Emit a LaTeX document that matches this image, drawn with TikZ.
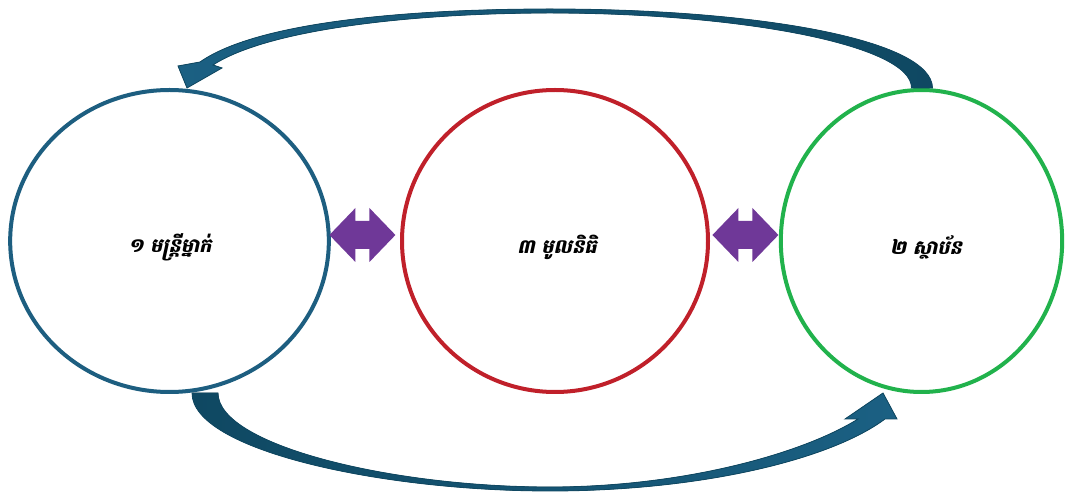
\documentclass[tikz,border=0pt]{standalone}
\usepackage{fontspec}
\usepackage{tikz}
\usetikzlibrary{shapes.geometric,calc}
\newfontfamily\khmerfont[Script=Khmer,FakeSlant=0.22,BoldFeatures={FakeSlant=0.22}]{Battambang}
\definecolor{ringblue}{HTML}{1D5E80}
\definecolor{ringred}{HTML}{C0202A}
\definecolor{ringgreen}{HTML}{21B24C}
\definecolor{flowdark}{HTML}{0F4862}
\definecolor{flowlight}{HTML}{1B6083}
\definecolor{linkpurple}{HTML}{6F3898}
\tikzset{
  ring/.style={shape=ellipse,draw,line width=3pt,inner sep=0pt,minimum height=226.5pt},
  lbl/.style={font=\khmerfont\bfseries\fontsize{14.5}{16}\selectfont},
  linkarrow/.style={fill=linkpurple},
  flow/.style={draw=flowdark,line width=0.6pt}
}
\begin{document}
\begin{tikzpicture}[x=0.75pt,y=-0.75pt]
\fill[white](0,0)rectangle(1065,495);
\useasboundingbox(0,0)rectangle(1065,495);
% three rings
\node[ring,draw=ringblue,minimum width=239pt](lft)at(169.5,241){};
\node[ring,draw=ringred,minimum width=229.5pt](mid)at(555,241){};
\node[ring,draw=ringgreen,minimum width=211pt](rgt)at(921.5,241){};
\node[lbl](lfttxt)at(170,247){១ មន្ត្រីម្នាក់};
\node[lbl](midtxt)at(557,247){៣ មូលនិធិ};
\node[lbl](rgttxt)at(926,247){២ ស្ថាប័ន};
% double arrows between rings
\coordinate(linkA)at($(lft.east)!0.5!(mid.west)+(-3,-6)$);
\coordinate(linkB)at($(mid.east)!0.5!(rgt.west)+(1,-6)$);
\foreach \c in {linkA,linkB}
  \fill[linkarrow](\c)++(-33,0)--++(26,-27)--++(0,13)--++(14,0)--++(0,-13)--++(26,27)
    --++(-26,27)--++(0,-13)--++(-14,0)--++(0,13)--cycle;
% curved arrow on top
\filldraw[flow,left color=flowlight,right color=flowdark]
  ($(rgt.north)+(-10,0)$)..controls(912,45)and(740,13)..(550,13)
  ..controls(420,13)and(270,28)..(213,65)--(222,68)--(187,88)--(178,66)--(200,62)
  ..controls(260,20)and(420,9)..(550,9)..controls(760,9)and(932,40)..($(rgt.north)+(11,0)$)--cycle;
% curved arrow at the bottom
\filldraw[flow,left color=flowdark,right color=flowlight]
  (192,393)..controls(192,450)and(380,491)..(550,491)..controls(700,491)and(830,460)..(885,419)
  --(897,419)--(883,393)--(845,419)--(858,419)
  ..controls(800,455)and(680,487)..(550,487)..controls(390,487)and(218,445)..(218,393)--cycle;
\end{tikzpicture}
\end{document}
